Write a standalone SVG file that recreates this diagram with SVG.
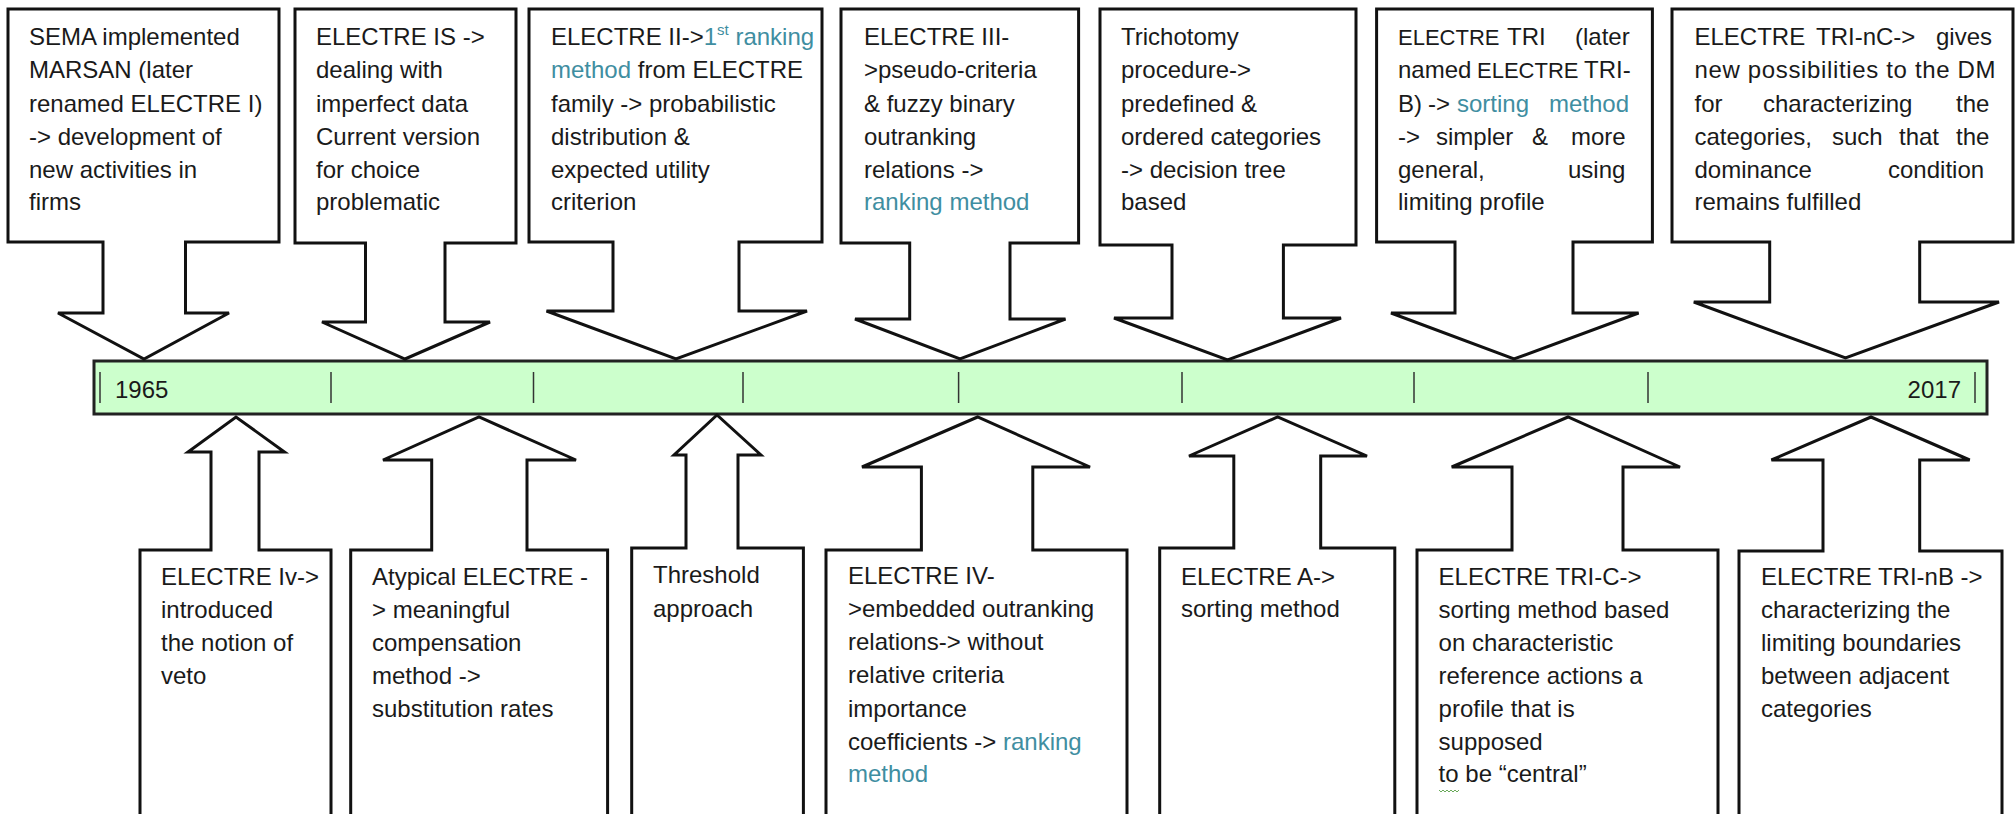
<svg xmlns="http://www.w3.org/2000/svg" width="2016" height="814" viewBox="0 0 2016 814">
<style>
.c{fill:#fff;stroke:#111;stroke-width:3;stroke-linejoin:miter}
text{font-family:"Liberation Sans",Arial,sans-serif;font-size:24px;fill:#1a1a1a}
.t{fill:#3f8ea1}
.n{font-size:22px}
.tick{stroke:#333;stroke-width:1.5}
</style>
<rect width="2016" height="814" fill="#fff"/>
<g id="connectors">
<g id="timeline">
<rect x="94" y="361" width="1893" height="53" fill="#ccffcc" stroke="#222" stroke-width="3"/>
<g class="tick">
<line x1="100" y1="372" x2="100" y2="403"/>
<line x1="331" y1="372" x2="331" y2="403"/>
<line x1="533.5" y1="372" x2="533.5" y2="403"/>
<line x1="743" y1="372" x2="743" y2="403"/>
<line x1="958.6" y1="372" x2="958.6" y2="403"/>
<line x1="1182" y1="372" x2="1182" y2="403"/>
<line x1="1414" y1="372" x2="1414" y2="403"/>
<line x1="1648" y1="372" x2="1648" y2="403"/>
<line x1="1975" y1="372" x2="1975" y2="403"/>
</g>
<text x="115" y="398">1965</text>
<text x="1961" y="398" text-anchor="end">2017</text>
</g>
</g>

<g id="top1">
<path class="c" d="M8,9 H279 V242 H185.5 V313 H229 L144,359 L58,313 H103 V242 H8 Z"/>
<text x="29" y="45">SEMA implemented</text>
<text x="29" y="78">MARSAN (later</text>
<text x="29" y="112">renamed ELECTRE I)</text>
<text x="29" y="145">-&gt; development of</text>
<text x="29" y="178">new activities in</text>
<text x="29" y="210">firms</text>
</g>
<g id="top2">
<path class="c" d="M295,9 H516 V243 H445 V322 H490 L405,359 L322,322 H365.5 V243 H295 Z"/>
<text x="316" y="45">ELECTRE IS -&gt;</text>
<text x="316" y="78">dealing with</text>
<text x="316" y="112">imperfect data</text>
<text x="316" y="145">Current version</text>
<text x="316" y="178">for choice</text>
<text x="316" y="210">problematic</text>
</g>
<g id="top3">
<path class="c" d="M529,9 H822 V242 H739 V311 H807 L676,359 L546.5,311 H613 V242 H529 Z"/>
<text x="551" y="45">ELECTRE II-&gt;<tspan class="t">1</tspan><tspan class="t" font-size="15" dy="-10">st</tspan><tspan class="t" dy="10"> ranking</tspan></text>
<text x="551" y="78"><tspan class="t">method</tspan> from ELECTRE</text>
<text x="551" y="112">family -&gt; probabilistic</text>
<text x="551" y="145">distribution &amp;</text>
<text x="551" y="178">expected utility</text>
<text x="551" y="210">criterion</text>
</g>
<g id="top4">
<path class="c" d="M841,9 H1078.6 V243 H1010 V319 H1065.5 L960,359 L855,319 H909.7 V243 H841 Z"/>
<text x="864" y="45">ELECTRE III-</text>
<text x="864" y="78">&gt;pseudo-criteria</text>
<text x="864" y="112">&amp; fuzzy binary</text>
<text x="864" y="145">outranking</text>
<text x="864" y="178">relations -&gt;</text>
<text x="864" y="210" class="t">ranking method</text>
</g>
<g id="top5">
<path class="c" d="M1100,9 H1356 V245 H1283.4 V318 H1341 L1227.6,360 L1114,318 H1172 V245 H1100 Z"/>
<text x="1121" y="45">Trichotomy</text>
<text x="1121" y="78">procedure-&gt;</text>
<text x="1121" y="112">predefined &amp;</text>
<text x="1121" y="145">ordered categories</text>
<text x="1121" y="178">-&gt; decision tree</text>
<text x="1121" y="210">based</text>
</g>
<g id="top6">
<path class="c" d="M1376.6,9 H1652.4 V242 H1573 V313 H1638.6 L1514,359 L1391,313 H1455 V242 H1376.6 Z"/>
<text y="45"><tspan x="1398" class="n">ELECTRE</tspan> <tspan x="1507">TRI</tspan> <tspan x="1575">(later</tspan></text>
<text y="78"><tspan x="1398">named</tspan> <tspan x="1477" class="n">ELECTRE</tspan> <tspan x="1584">TRI-</tspan></text>
<text y="112"><tspan x="1398">B)</tspan> <tspan x="1428">-&gt;</tspan> <tspan x="1457" class="t">sorting</tspan> <tspan x="1549" class="t">method</tspan></text>
<text y="145"><tspan x="1398">-&gt;</tspan> <tspan x="1436">simpler</tspan> <tspan x="1532">&amp;</tspan> <tspan x="1571">more</tspan></text>
<text y="178"><tspan x="1398">general,</tspan> <tspan x="1568">using</tspan></text>
<text x="1398" y="210">limiting profile</text>
</g>
<g id="top7">
<path class="c" d="M1672,9 H2013 V242 H1919.7 V302 H1999 L1845.5,358 L1693.8,302 H1769.7 V242 H1672 Z"/>
<text y="45"><tspan x="1694.5">ELECTRE</tspan> <tspan x="1816">TRI-nC-&gt;</tspan> <tspan x="1936">gives</tspan></text>
<text x="1694.5" y="78" textLength="301" lengthAdjust="spacing">new possibilities to the DM</text>
<text y="112"><tspan x="1694.5">for</tspan> <tspan x="1763">characterizing</tspan> <tspan x="1956">the</tspan></text>
<text y="145"><tspan x="1694.5">categories,</tspan> <tspan x="1832">such</tspan> <tspan x="1899">that</tspan> <tspan x="1956">the</tspan></text>
<text y="178"><tspan x="1694.5">dominance</tspan> <tspan x="1888">condition</tspan></text>
<text x="1694.5" y="210">remains fulfilled</text>
</g>

<g id="bottom1">
<path class="c" d="M140,816 V550 H211 V452 H188 L236,417 L284.5,452 H259 V550 H331 V816"/>
<text x="161" y="585">ELECTRE Iv-&gt;</text>
<text x="161" y="618">introduced</text>
<text x="161" y="651">the notion of</text>
<text x="161" y="684">veto</text>
</g>
<g id="bottom2">
<path class="c" d="M350.7,816 V550 H431.7 V460 H383 L479,417 L576,460 H527 V550 H607.6 V816"/>
<text x="372" y="585">Atypical ELECTRE -</text>
<text x="372" y="618">&gt; meaningful</text>
<text x="372" y="651">compensation</text>
<text x="372" y="684">method -&gt;</text>
<text x="372" y="717">substitution rates</text>
</g>
<g id="bottom3">
<path class="c" d="M631.7,816 V548 H686 V455 H674 L717,415 L761,455 H738 V548 H803.4 V816"/>
<text x="653" y="583">Threshold</text>
<text x="653" y="617">approach</text>
</g>
<g id="bottom4">
<path class="c" d="M826,816 V550 H921.4 V467 H862 L977.6,417 L1090,467 H1032.8 V550 H1127 V816"/>
<text x="848" y="584">ELECTRE IV-</text>
<text x="848" y="617">&gt;embedded outranking</text>
<text x="848" y="650">relations-&gt; without</text>
<text x="848" y="683">relative criteria</text>
<text x="848" y="717">importance</text>
<text x="848" y="750">coefficients -&gt; <tspan class="t">ranking</tspan></text>
<text x="848" y="782" class="t">method</text>
</g>
<g id="bottom5">
<path class="c" d="M1159.7,816 V548 H1233.8 V456 H1189 L1277.6,417 L1367,456 H1320.7 V548 H1394.8 V816"/>
<text x="1181" y="585">ELECTRE A-&gt;</text>
<text x="1181" y="617">sorting method</text>
</g>
<g id="bottom6">
<path class="c" d="M1417,816 V550 H1512 V467 H1451.7 L1568,417 L1680,467 H1623 V550 H1718 V816"/>
<text x="1438.6" y="585">ELECTRE TRI-C-&gt;</text>
<text x="1438.6" y="618">sorting method based</text>
<text x="1438.6" y="651">on characteristic</text>
<text x="1438.6" y="684">reference actions a</text>
<text x="1438.6" y="717">profile that is</text>
<text x="1438.6" y="750">supposed</text>
<text x="1438.6" y="782">to be “central”</text>
<path d="M1439,790 l2,2 l2,-2 l2,2 l2,-2 l2,2 l2,-2 l2,2 l2,-2 l2,2 l2,-2" fill="none" stroke="#6aaa5a" stroke-width="1"/>
</g>
<g id="bottom7">
<path class="c" d="M1739,816 V551 H1823 V460 H1771.4 L1871,417 L1969.7,460 H1919.7 V551 H2002 V816"/>
<text x="1761" y="585">ELECTRE TRI-nB -&gt;</text>
<text x="1761" y="618">characterizing the</text>
<text x="1761" y="651">limiting boundaries</text>
<text x="1761" y="684">between adjacent</text>
<text x="1761" y="717">categories</text>
</g>
</svg>
